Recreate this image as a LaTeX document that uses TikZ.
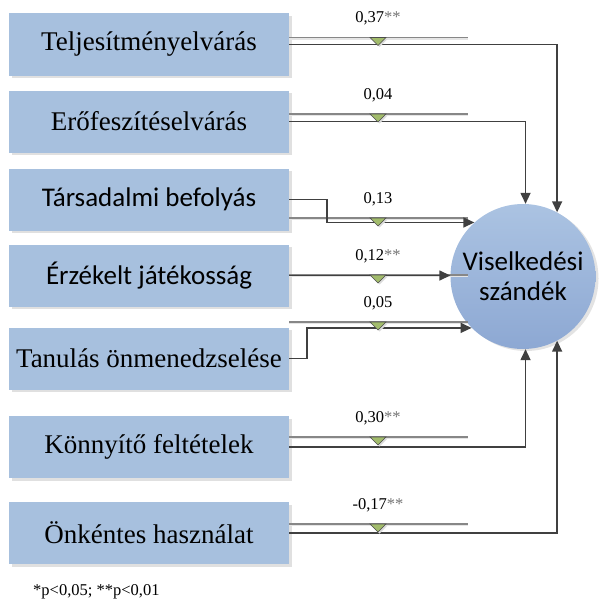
\documentclass[tikz,border=0pt]{standalone}
\usepackage{fontspec}
\setmainfont{Liberation Serif}
\newfontfamily\calibrifont{Carlito}
\usetikzlibrary{arrows.meta,calc,shadows}

\definecolor{boxblue}{HTML}{A7C0DE}
\definecolor{circtop}{HTML}{ABC3E2}
\definecolor{circbot}{HTML}{8DA8D3}
\definecolor{linedark}{HTML}{404040}
\definecolor{linegray}{HTML}{878787}
\definecolor{markgreen}{HTML}{A2BC6C}

\newcommand\stars{\textcolor{black!55}{**}}

\tikzset{
  factor/.style={rectangle, fill=boxblue, minimum width=280pt, minimum height=62pt,
    inner sep=0pt, font=\fontsize{27}{32}\selectfont,
    drop shadow={shadow xshift=2.5pt, shadow yshift=-2.5pt, fill=black!12, opacity=1}},
  sansfactor/.style={factor, font=\calibrifont\fontsize{27}{32}\selectfont},
  target/.style={circle, minimum size=145pt, inner sep=0pt, top color=circtop,
    bottom color=circbot, align=center, font=\calibrifont\fontsize{27}{30}\selectfont,
    drop shadow={shadow xshift=3pt, shadow yshift=-2pt, fill=black!11, opacity=1}},
  conn/.style={draw=linedark, line width=1.5pt, -{Triangle[length=11pt,width=10pt]}},
  gaugeline/.style={draw=linegray, line width=1.3pt,
    preaction={draw=black!10, line width=1.3pt, transform canvas={yshift=-1.5pt}}},
  coef/.style={font=\fontsize{16.5}{18}\selectfont, inner sep=0pt},
  pics/coefmark/.style={code={
    \fill[black!14] (-6.5pt,-1.5pt) -- (9.5pt,-1.5pt) -- (1.5pt,-9.5pt) -- cycle;
    \filldraw[fill=markgreen, draw=black!70, line width=0.6pt]
      (-8pt,0pt) -- (8pt,0pt) -- (0pt,-8pt) -- cycle;}},
}

\begin{document}
\begin{tikzpicture}[x=1pt,y=-1pt]
\useasboundingbox (0,0) rectangle (598,610);

% predictor boxes
\node[factor]     (b1) at (149,44.5)  {Teljesítményelvárás};
\node[factor]     (b2) at (149,121.5) {Erőfeszítéselvárás};
\node[sansfactor] (b3) at (149,199.5) {Társadalmi befolyás};
\node[sansfactor] (b4) at (149,275.5) {Érzékelt játékosság};
\node[factor]     (b5) at (149,358.5) {Tanulás önmenedzselése};
\node[factor]     (b6) at (149,447)   {Könnyítő feltételek};
\node[factor]     (b7) at (149,533)   {Önkéntes használat};

% outcome
\node[target] (vs) at (523,276.5) {Viselkedési\\szándék};

% helper columns
\coordinate (tx) at (378,0);
\coordinate (gx) at (468,0);
\coordinate (j3) at (327,0);
\coordinate (j5) at (307,0);

% coefficient bars
\coordinate (g1) at ($(b1.east)+(0,-7)$);
\coordinate (g2) at ($(b2.east)+(0,-7.5)$);
\coordinate (g3) at ($(b3.east)+(0,18.5)$);
\coordinate (g4) at ($(b4.east)+(0,-0.5)$);
\coordinate (g5) at ($(b5.east)+(0,-36.5)$);
\coordinate (g6) at ($(b6.east)+(0,-10)$);
\coordinate (g7) at ($(b7.east)+(0,-9)$);

\foreach \g in {g1,g2,g3,g4,g5,g6,g7}
  \draw[gaugeline] (\g) -- (\g -| gx);

% paths into the outcome
\draw[conn] (b1.east) -| (vs.62);
\draw[conn] (b2.east) -| (vs.88);
\draw[conn] (b3.east) -| (j3 |- vs.132.4) -- (vs.132.4);
\draw[conn] (b4.east) -- (b4.east -| vs.west);
\draw[conn] (b5.east) -| (j5 |- vs.225.3) -- (vs.225.3);
\draw[conn] (b6.east) -| (vs.272);
\draw[conn] (b7.east) -| (vs.298);

% markers and coefficients
\foreach \g/\t in {g1/{0,37\stars}, g2/{0,04}, g3/{0,13}, g4/{0,12\stars},
                   g5/{0,05}, g6/{0,30\stars}, g7/{-0,17\stars}} {
  \pic at (\g -| tx) {coefmark};
  \node[coef] at ($(\g -| tx)+(0,-19)$) {\t};
}

% significance note
\node[coef, anchor=west] (note) at (33,592) {*p<0,05; **p<0,01};
\end{tikzpicture}
\end{document}
